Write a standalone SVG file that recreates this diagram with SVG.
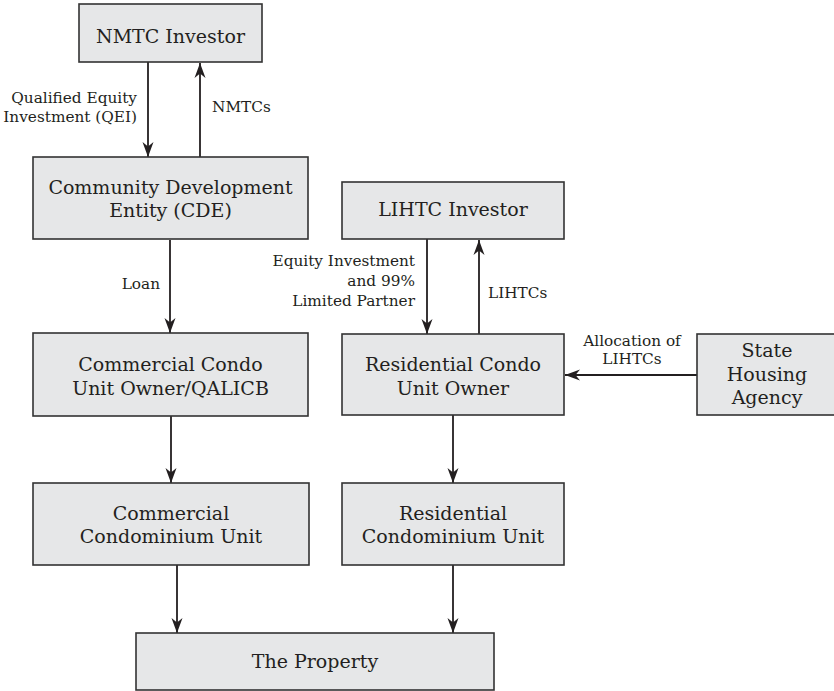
<svg xmlns="http://www.w3.org/2000/svg" width="834" height="691" viewBox="0 0 834 691">
  <style>
    .box { fill: #e6e7e8; stroke: #333333; stroke-width: 1.6; }
    .node { font-family: "DejaVu Serif", "Liberation Serif", serif; font-size: 19px; fill: #231f20; text-anchor: middle; }
    .lbl { font-family: "DejaVu Serif", "Liberation Serif", serif; font-size: 15.3px; fill: #231f20; }
    .end { text-anchor: end; }
    .mid { text-anchor: middle; }
    .conn { stroke: #231f20; stroke-width: 1.8; fill: none; marker-end: url(#arrow); }
  </style>
  <defs>
    <marker id="arrow" markerUnits="userSpaceOnUse" markerWidth="16" markerHeight="12" viewBox="-15 -6 16 12" refX="0" refY="0" orient="auto">
      <path d="M0,0 L-15,-5.5 L-10.5,0 L-15,5.5 Z" fill="#231f20"/>
    </marker>
  </defs>

  <rect width="834" height="691" fill="#ffffff"/>

  <g id="connectors">
    <!-- NMTC Investor <-> CDE -->
    <line class="conn" x1="148" y1="62" x2="148" y2="157"/>
    <line class="conn" x1="200" y1="157" x2="200" y2="63"/>
    <!-- CDE -> Commercial owner -->
    <line class="conn" x1="170" y1="240" x2="170" y2="333"/>
    <!-- LIHTC Investor <-> Residential owner -->
    <line class="conn" x1="427" y1="239" x2="427" y2="334"/>
    <line class="conn" x1="479" y1="334" x2="479" y2="240"/>
    <!-- State Housing Agency -> Residential owner -->
    <line class="conn" x1="697" y1="375" x2="565" y2="375"/>
    <!-- Owners -> units -->
    <line class="conn" x1="171" y1="416" x2="171" y2="483"/>
    <line class="conn" x1="453" y1="415" x2="453" y2="483"/>
    <!-- Units -> property -->
    <line class="conn" x1="177" y1="565" x2="177" y2="633"/>
    <line class="conn" x1="453" y1="565" x2="453" y2="633"/>

    <text class="lbl end" x="137" y="103">Qualified Equity</text>
    <text class="lbl end" x="137" y="122">Investment (QEI)</text>
    <text class="lbl" x="212" y="112">NMTCs</text>
    <text class="lbl end" x="160" y="289">Loan</text>
    <text class="lbl end" x="415" y="266">Equity Investment</text>
    <text class="lbl end" x="415" y="286">and 99%</text>
    <text class="lbl end" x="415" y="306">Limited Partner</text>
    <text class="lbl" x="488" y="298">LIHTCs</text>
    <text class="lbl mid" x="632" y="346">Allocation of</text>
    <text class="lbl mid" x="632" y="364">LIHTCs</text>
  </g>

  <g id="nmtc-investor">
    <rect class="box" x="79" y="4" width="183" height="58"/>
    <text class="node" x="170.5" y="43">NMTC Investor</text>
  </g>

  <g id="cde">
    <rect class="box" x="33" y="157" width="275" height="82"/>
    <text class="node" x="170.5" y="194">Community Development</text>
    <text class="node" x="170.5" y="217">Entity (CDE)</text>
  </g>

  <g id="lihtc-investor">
    <rect class="box" x="342" y="182" width="222" height="57"/>
    <text class="node" x="453" y="216">LIHTC Investor</text>
  </g>

  <g id="commercial-owner">
    <rect class="box" x="33" y="333" width="275" height="83"/>
    <text class="node" x="170.5" y="371">Commercial Condo</text>
    <text class="node" x="170.5" y="395">Unit Owner/QALICB</text>
  </g>

  <g id="residential-owner">
    <rect class="box" x="342" y="334" width="222" height="81"/>
    <text class="node" x="453" y="371">Residential Condo</text>
    <text class="node" x="453" y="395">Unit Owner</text>
  </g>

  <g id="state-housing-agency">
    <rect class="box" x="697" y="334" width="140" height="81"/>
    <text class="node" x="767" y="357">State</text>
    <text class="node" x="767" y="381">Housing</text>
    <text class="node" x="767" y="404">Agency</text>
  </g>

  <g id="commercial-unit">
    <rect class="box" x="33" y="483" width="276" height="82"/>
    <text class="node" x="171" y="520">Commercial</text>
    <text class="node" x="171" y="543">Condominium Unit</text>
  </g>

  <g id="residential-unit">
    <rect class="box" x="342" y="483" width="222" height="82"/>
    <text class="node" x="453" y="520">Residential</text>
    <text class="node" x="453" y="543">Condominium Unit</text>
  </g>

  <g id="the-property">
    <rect class="box" x="136" y="633" width="358" height="57"/>
    <text class="node" x="315" y="668">The Property</text>
  </g>
</svg>
